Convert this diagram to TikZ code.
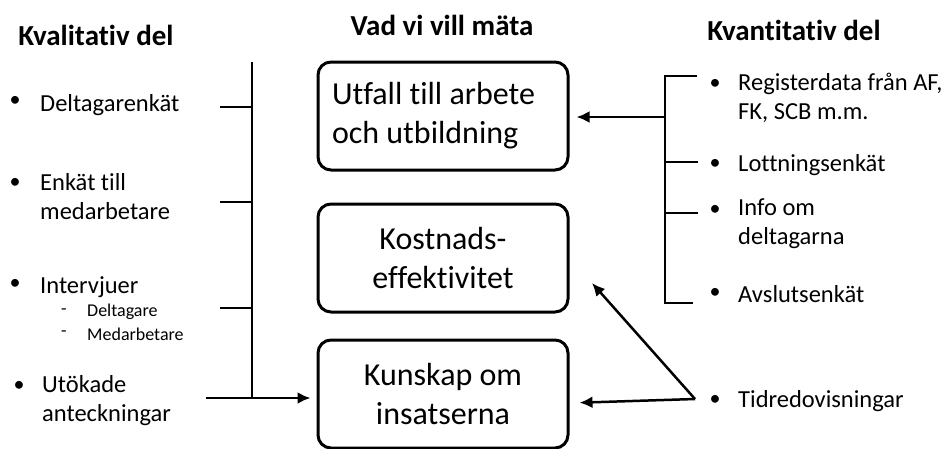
\documentclass[tikz,border=0pt]{standalone}
\usepackage{fontspec}
\setmainfont{Carlito}[Ligatures=CommonOff]
\usepackage{tikz}
\usetikzlibrary{arrows.meta,positioning}
\tikzset{
  box/.style={rectangle, draw, line width=3pt, rounded corners=13pt, align=center, minimum width=250pt, minimum height=108pt, font=\fontsize{32}{39}\selectfont},
  head/.style={font=\bfseries\fontsize{29}{32}\selectfont},
  item/.style={anchor=west, align=left, inner sep=0pt, font=\fontsize{24.5}{29}\selectfont},
  subitem/.style={anchor=west, inner sep=0pt, font=\fontsize{18}{22}\selectfont},
  dot/.style={inner sep=0pt, font=\fontsize{22}{29}\selectfont},
  line/.style={-{Latex[length=13pt,width=12pt]}, line width=2.5pt},
  bar/.style={line width=2.5pt}
}

\begin{document}
\begin{tikzpicture}[x=1pt, y=-1pt]
  \useasboundingbox (0,0) rectangle (944,448);

  % middle column
  \node[head] (midhead) at (442,25) {Vad vi vill mäta};
  \node[box, text width=222pt, align=flush left] (utfall) at (443,116) {Utfall till arbete\\och utbildning};
  \node[box] (kostnad) at (443,258) {Kostnads-\\effektivitet};
  \node[box] (kunskap) at (443,394) {Kunskap om\\insatserna};

  % left column
  \node[head] (lefthead) at (96,35) {Kvalitativ del};
  \node[dot] (d1) at (15,101) {\textbullet};
  \node[item] (deltagare) at (40,105) {Deltagarenkät};
  \node[dot] (d2) at (15,183) {\textbullet};
  \node[item] (enkat) at (40,197) {Enkät till\\medarbetare};
  \node[dot] (d3) at (15,284) {\textbullet};
  \node[item] (intervju) at (40,287) {Intervjuer};
  \node[subitem] (s1) at (61,312) {-};
  \node[subitem] (s1t) at (87,312) {Deltagare};
  \node[subitem] (s2) at (61,334) {-};
  \node[subitem] (s2t) at (87,334) {Medarbetare};
  \node[dot] (d4) at (19,386) {\textbullet};
  \node[item] (utokade) at (42,401) {Utökade\\anteckningar};

  \coordinate (ltop) at (252,62);
  \coordinate (lbot) at (252,398);
  \coordinate (lfoot) at (206,398);
  \coordinate (lt1) at (220,107);
  \coordinate (lt2) at (220,202);
  \coordinate (lt3) at (220,308);
  \draw[bar] (ltop) -- (lbot);
  \draw[bar] (lt1) -- (lt1 -| ltop);
  \draw[bar] (lt2) -- (lt2 -| ltop);
  \draw[bar] (lt3) -- (lt3 -| ltop);
  \draw[line, shorten >=6pt] (lfoot) -- (lfoot -| kunskap.west);

  % right column
  \node[head] (righthead) at (794,30) {Kvantitativ del};
  \node[dot] (r1) at (715,84) {\textbullet};
  \node[item] (register) at (738,98) {Registerdata från AF,\\FK, SCB m.m.};
  \node[dot] (r2) at (715,164) {\textbullet};
  \node[item] (lottning) at (738,165) {Lottningsenkät};
  \node[dot] (r3) at (715,210) {\textbullet};
  \node[item] (info) at (738,224) {Info om\\deltagarna};
  \node[dot] (r4) at (715,293) {\textbullet};
  \node[item] (avslut) at (738,294) {Avslutsenkät};
  \node[dot] (r5) at (715,400) {\textbullet};
  \node[item] (tid) at (738,401) {Tidredovisningar};

  \coordinate (rtop) at (665,76);
  \coordinate (rbot) at (665,303);
  \coordinate (rmid) at (665,117);
  \coordinate (rt2) at (698,162);
  \coordinate (rt3) at (698,213);
  \coordinate (tidpt) at (695,399);
  \coordinate (kostpt) at (592,283);
  \draw[bar] (697,76) -- (rtop) -- (rbot) -- (693,303);
  \draw[bar] (rt2) -- (rt2 -| rtop);
  \draw[bar] (rt3) -- (rt3 -| rtop);
  \draw[line, shorten >=7pt] (rmid) -- (rmid -| utfall.east);
  \draw[line] (tidpt) -- (kostpt);
  \draw[line, shorten >=10pt] (tidpt) -- (kunskap.east |- 0,403);
\end{tikzpicture}
\end{document}
